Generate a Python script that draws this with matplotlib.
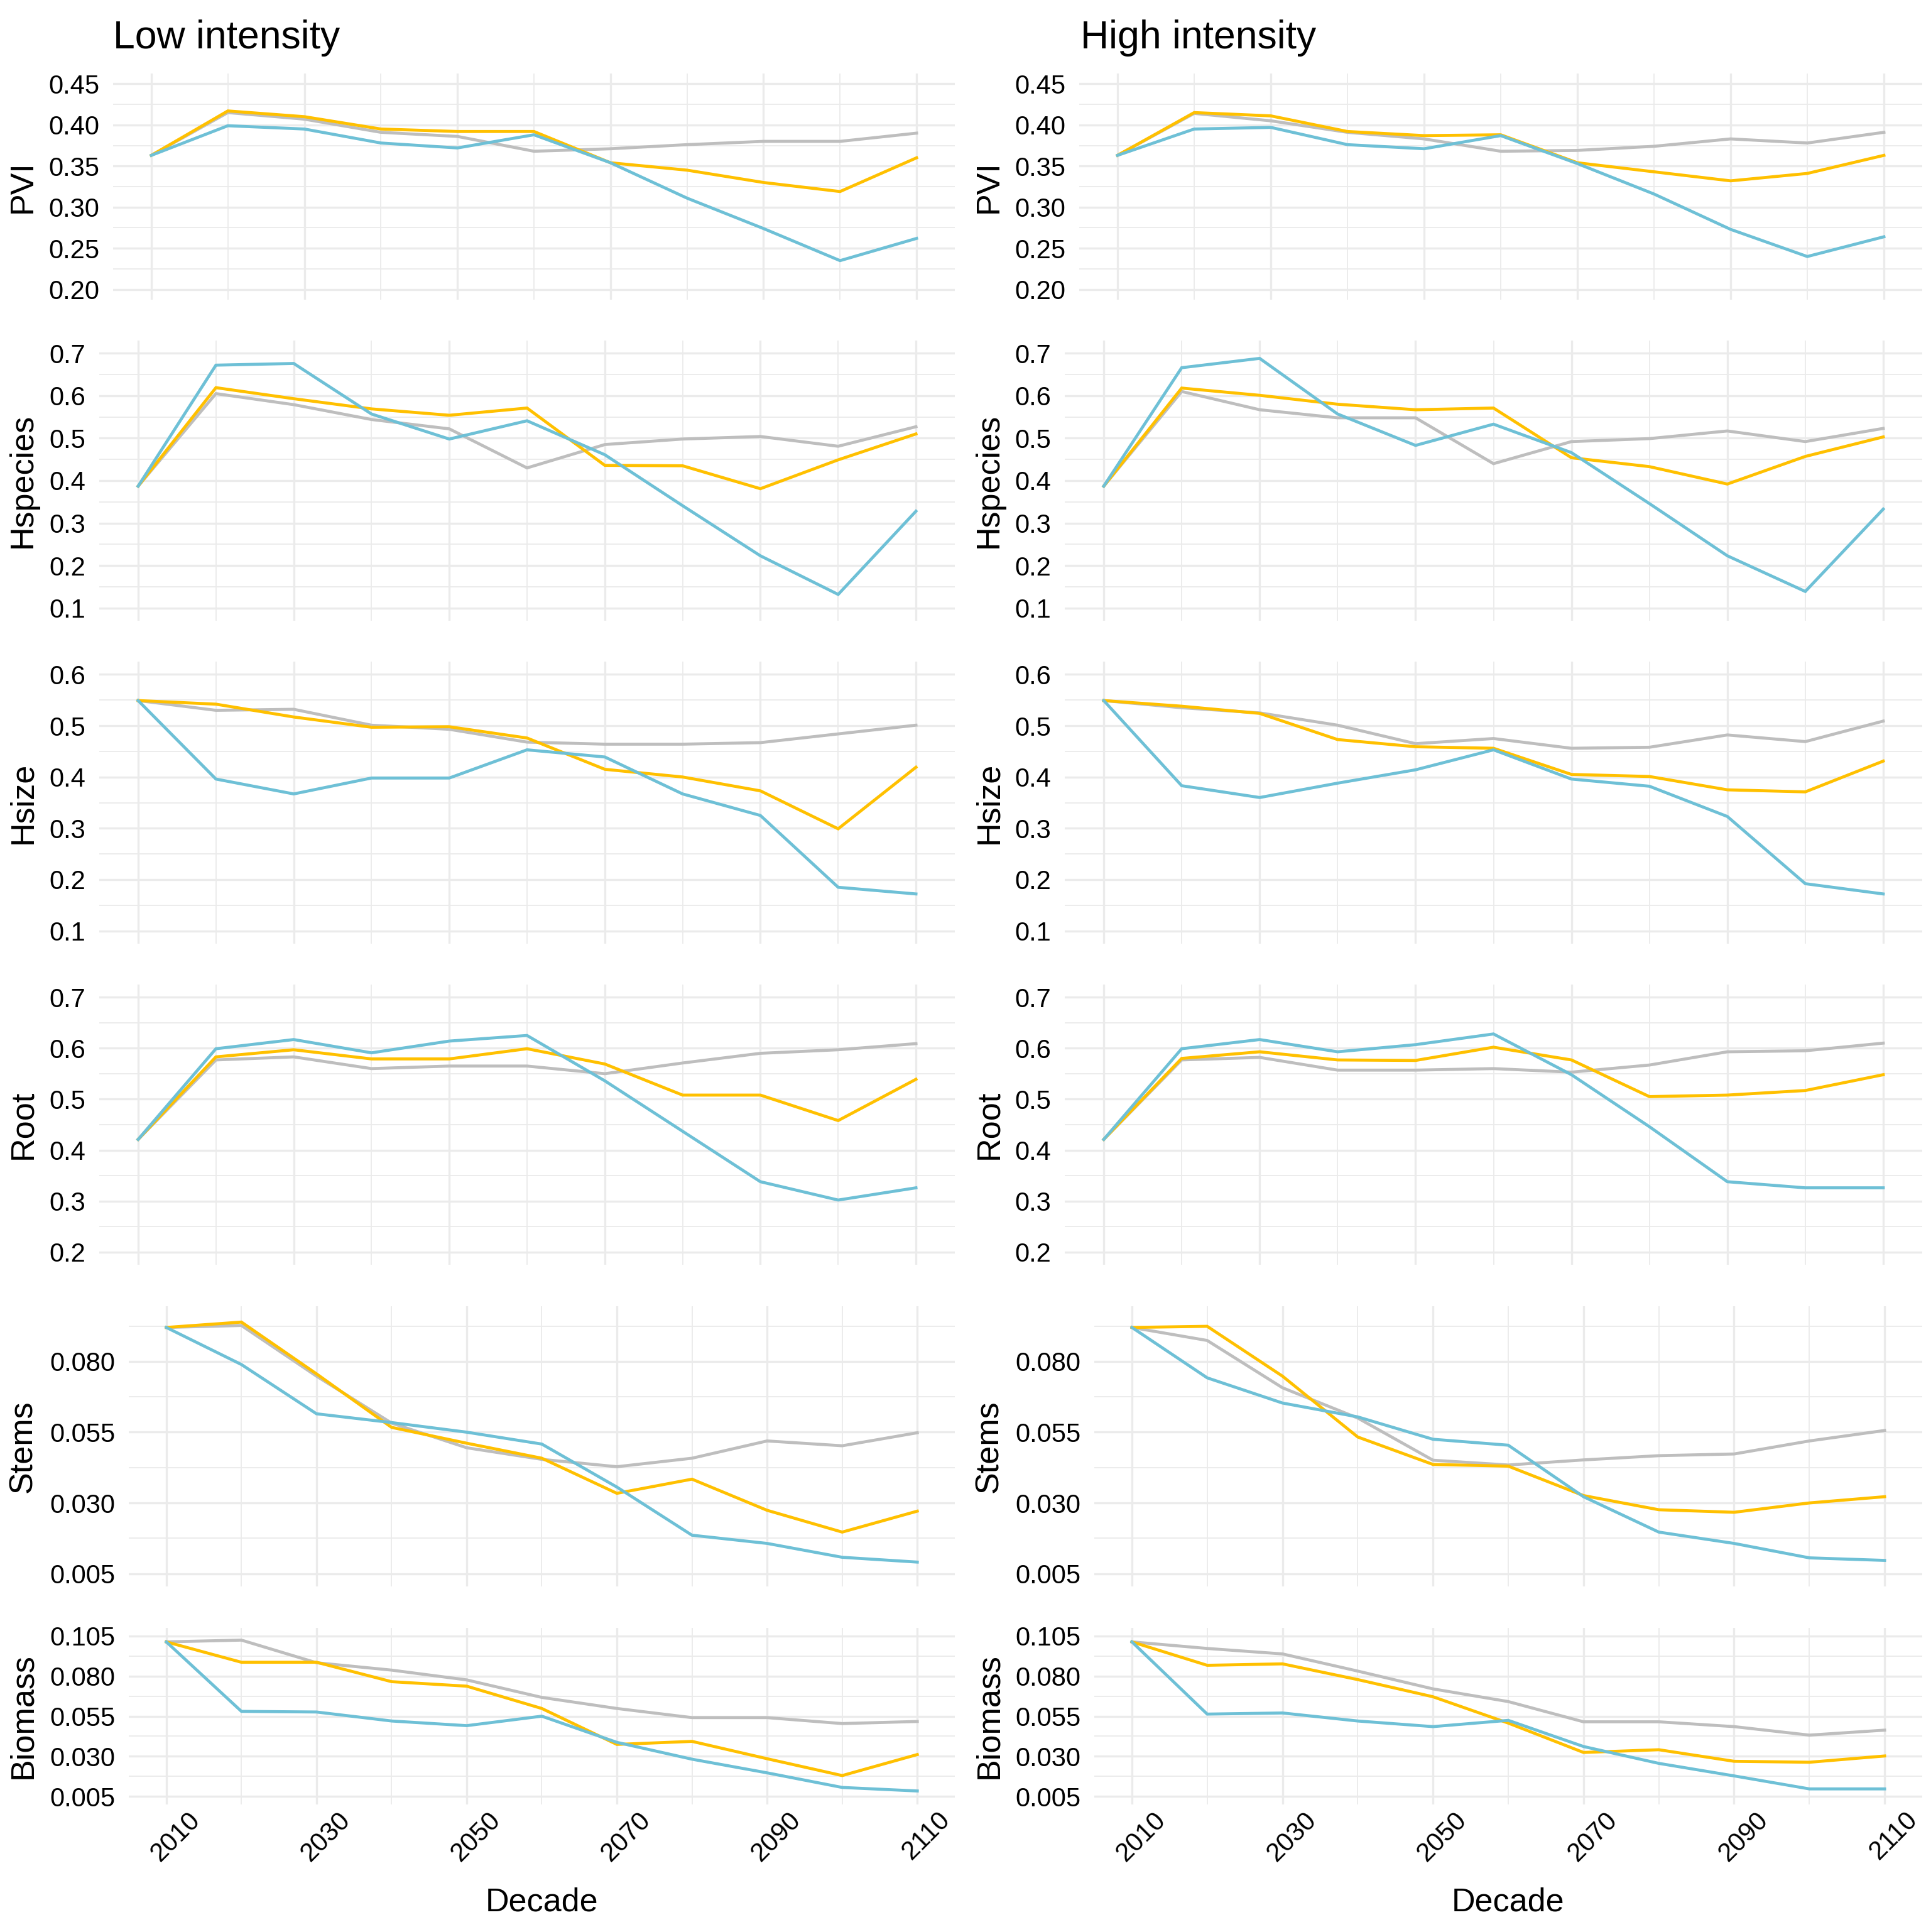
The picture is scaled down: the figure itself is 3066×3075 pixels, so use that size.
import numpy as np
import matplotlib
matplotlib.use("Agg")
import matplotlib.pyplot as plt
import matplotlib.transforms as mtransforms
from matplotlib.ticker import FixedLocator, FormatStrFormatter

plt.rcParams['font.family'] = ['Liberation Sans', 'DejaVu Sans']

decades = [2010, 2020, 2030, 2040, 2050, 2060, 2070, 2080, 2090, 2100, 2110]

# ---- PVI
pvi_lo_grey = [0.363, 0.415, 0.407, 0.391, 0.386, 0.368, 0.371, 0.376, 0.380, 0.380, 0.390]
pvi_lo_gold = [0.363, 0.417, 0.410, 0.395, 0.392, 0.392, 0.354, 0.345, 0.330, 0.319, 0.360]
pvi_lo_blue = [0.363, 0.399, 0.395, 0.378, 0.372, 0.388, 0.354, 0.311, 0.274, 0.235, 0.262]
pvi_hi_grey = [0.363, 0.414, 0.405, 0.391, 0.383, 0.368, 0.369, 0.374, 0.383, 0.378, 0.391]
pvi_hi_gold = [0.363, 0.415, 0.411, 0.392, 0.387, 0.388, 0.354, 0.343, 0.332, 0.341, 0.363]
pvi_hi_blue = [0.363, 0.395, 0.397, 0.376, 0.371, 0.387, 0.353, 0.316, 0.273, 0.240, 0.264]

# ---- Hspecies
hsp_lo_grey = [0.387, 0.605, 0.579, 0.544, 0.522, 0.430, 0.485, 0.498, 0.504, 0.481, 0.527]
hsp_lo_gold = [0.387, 0.619, 0.593, 0.569, 0.554, 0.571, 0.436, 0.435, 0.381, 0.449, 0.510]
hsp_lo_blue = [0.387, 0.672, 0.676, 0.557, 0.498, 0.541, 0.461, 0.341, 0.223, 0.132, 0.328]
hsp_hi_grey = [0.387, 0.610, 0.567, 0.548, 0.548, 0.440, 0.492, 0.499, 0.517, 0.492, 0.523]
hsp_hi_gold = [0.387, 0.618, 0.601, 0.580, 0.567, 0.571, 0.454, 0.433, 0.392, 0.457, 0.503]
hsp_hi_blue = [0.387, 0.666, 0.688, 0.557, 0.483, 0.533, 0.466, 0.346, 0.223, 0.139, 0.333]

# ---- Hsize
hsz_lo_grey = [0.549, 0.530, 0.532, 0.501, 0.493, 0.468, 0.464, 0.464, 0.467, 0.484, 0.501]
hsz_lo_gold = [0.549, 0.542, 0.517, 0.497, 0.498, 0.476, 0.415, 0.400, 0.373, 0.299, 0.419]
hsz_lo_blue = [0.549, 0.396, 0.367, 0.398, 0.398, 0.453, 0.439, 0.367, 0.325, 0.185, 0.172]
hsz_hi_grey = [0.549, 0.535, 0.525, 0.501, 0.465, 0.475, 0.456, 0.458, 0.482, 0.469, 0.509]
hsz_hi_gold = [0.549, 0.538, 0.524, 0.473, 0.459, 0.456, 0.405, 0.401, 0.375, 0.371, 0.431]
hsz_hi_blue = [0.549, 0.383, 0.360, 0.388, 0.414, 0.453, 0.396, 0.382, 0.323, 0.192, 0.172]

# ---- Root
root_lo_grey = [0.421, 0.577, 0.583, 0.560, 0.565, 0.565, 0.550, 0.571, 0.590, 0.597, 0.609]
root_lo_gold = [0.421, 0.583, 0.597, 0.579, 0.579, 0.599, 0.569, 0.508, 0.508, 0.458, 0.539]
root_lo_blue = [0.421, 0.599, 0.617, 0.591, 0.614, 0.625, 0.536, 0.437, 0.338, 0.302, 0.326]
root_hi_grey = [0.421, 0.577, 0.582, 0.557, 0.557, 0.560, 0.553, 0.567, 0.593, 0.595, 0.610]
root_hi_gold = [0.421, 0.580, 0.593, 0.577, 0.576, 0.602, 0.577, 0.505, 0.508, 0.517, 0.548]
root_hi_blue = [0.421, 0.599, 0.617, 0.593, 0.607, 0.628, 0.548, 0.446, 0.338, 0.326, 0.326]

# ---- Stems
stem_lo_grey = [0.0920, 0.0927, 0.0748, 0.0582, 0.0495, 0.0454, 0.0428, 0.0458, 0.0519, 0.0502, 0.0548]
stem_lo_gold = [0.0920, 0.0939, 0.0756, 0.0567, 0.0511, 0.0458, 0.0334, 0.0384, 0.0274, 0.0197, 0.0271]
stem_lo_blue = [0.0920, 0.0789, 0.0615, 0.0584, 0.0550, 0.0508, 0.0356, 0.0186, 0.0157, 0.0108, 0.0091]
stem_hi_grey = [0.0920, 0.0874, 0.0707, 0.0600, 0.0451, 0.0434, 0.0452, 0.0467, 0.0473, 0.0519, 0.0556]
stem_hi_gold = [0.0920, 0.0924, 0.0748, 0.0533, 0.0436, 0.0430, 0.0326, 0.0276, 0.0267, 0.0300, 0.0322]
stem_hi_blue = [0.0920, 0.0742, 0.0653, 0.0604, 0.0525, 0.0504, 0.0322, 0.0197, 0.0157, 0.0106, 0.0097]

# ---- Biomass
bio_lo_grey = [0.1013, 0.1024, 0.0883, 0.0837, 0.0776, 0.0667, 0.0598, 0.0541, 0.0541, 0.0504, 0.0517]
bio_lo_gold = [0.1013, 0.0886, 0.0886, 0.0765, 0.0737, 0.0598, 0.0374, 0.0393, 0.0285, 0.0180, 0.0311]
bio_lo_blue = [0.1013, 0.0580, 0.0576, 0.0520, 0.0491, 0.0550, 0.0387, 0.0282, 0.0197, 0.0106, 0.0084]
bio_hi_grey = [0.1013, 0.0972, 0.0938, 0.0831, 0.0720, 0.0641, 0.0515, 0.0515, 0.0485, 0.0432, 0.0463]
bio_hi_gold = [0.1013, 0.0867, 0.0876, 0.0778, 0.0671, 0.0507, 0.0324, 0.0341, 0.0269, 0.0263, 0.0302]
bio_hi_blue = [0.1013, 0.0563, 0.0570, 0.0520, 0.0485, 0.0524, 0.0361, 0.0256, 0.0178, 0.0097, 0.0097]

metrics = ['PVI', 'Hspecies', 'Hsize', 'Root', 'Stems', 'Biomass']
y_limits = [(0.2, 0.45), (0.1, 0.7), (0.1, 0.6), (0.2, 0.7), (0.005, 0.095), (0.005, 0.105)]
y_steps = [0.05, 0.1, 0.1, 0.1, 0.025, 0.025]
y_fmts = ['%.2f', '%.1f', '%.1f', '%.1f', '%.3f', '%.3f']
titles = ['Low intensity', 'High intensity']

low_series = [
    (pvi_lo_grey, pvi_lo_gold, pvi_lo_blue),
    (hsp_lo_grey, hsp_lo_gold, hsp_lo_blue),
    (hsz_lo_grey, hsz_lo_gold, hsz_lo_blue),
    (root_lo_grey, root_lo_gold, root_lo_blue),
    (stem_lo_grey, stem_lo_gold, stem_lo_blue),
    (bio_lo_grey, bio_lo_gold, bio_lo_blue),
]
high_series = [
    (pvi_hi_grey, pvi_hi_gold, pvi_hi_blue),
    (hsp_hi_grey, hsp_hi_gold, hsp_hi_blue),
    (hsz_hi_grey, hsz_hi_gold, hsz_hi_blue),
    (root_hi_grey, root_hi_gold, root_hi_blue),
    (stem_hi_grey, stem_hi_gold, stem_hi_blue),
    (bio_hi_grey, bio_hi_gold, bio_hi_blue),
]

line_colors = ['#BEBEBE', '#FFC000', '#6EC0D6']
grid_color = '#EBEBEB'

# layout in pixels (image is 3066 x 3075)
W, H = 3066, 3075
row_spans = [(117, 477), (542, 988), (1053, 1502), (1567, 2013), (2079, 2525), (2591, 2872)]
col_left = [[180, 158, 158, 158, 205, 205], [1718, 1695, 1695, 1695, 1742, 1742]]
col_right = [1520, 3060]
ylabel_x = [50, 1588]
title_x = [180, 1720]

fig = plt.figure(figsize=(W / 300, H / 300), dpi=300)


def draw_panel(ax, series, lim, step, fmt, bottom):
    lo, hi = lim
    pad = (hi - lo) * 0.05
    ax.set_xlim(2005, 2115)
    ax.set_ylim(lo - pad, hi + pad)
    major = np.arange(lo, hi + step * 0.01, step)
    minor = major + step / 2
    minor = minor[minor < hi + pad]
    ax.yaxis.set_major_locator(FixedLocator(major))
    ax.yaxis.set_minor_locator(FixedLocator(minor))
    ax.yaxis.set_major_formatter(FormatStrFormatter(fmt))
    ax.xaxis.set_major_locator(FixedLocator(decades[::2]))
    ax.xaxis.set_minor_locator(FixedLocator(decades[1::2]))
    ax.grid(which='minor', color=grid_color, lw=0.45)
    ax.grid(which='major', color=grid_color, lw=0.8)
    ax.set_axisbelow(True)
    for s in ax.spines.values():
        s.set_visible(False)
    ax.tick_params(which='both', length=0)
    ax.tick_params(axis='y', labelsize=10, pad=5.2, colors='black')
    for vals, c in zip(series, line_colors):
        ax.plot(decades, vals, color=c, lw=1.15, solid_joinstyle='miter')
    if bottom:
        ax.tick_params(axis='x', labelsize=10, pad=1, colors='black')
        offset = mtransforms.ScaledTranslation(15 / 300, 0, fig.dpi_scale_trans)
        for lab in ax.get_xticklabels():
            lab.set_rotation(45)
            lab.set_ha('center')
            lab.set_va('top')
            lab.set_transform(lab.get_transform() + offset)
    else:
        ax.tick_params(axis='x', labelbottom=False)


for ci, col_series in enumerate([low_series, high_series]):
    for ri in range(6):
        top, bot = row_spans[ri]
        left = col_left[ci][ri]
        right = col_right[ci]
        ax = fig.add_axes([left / W, 1 - bot / H, (right - left) / W, (bot - top) / H])
        draw_panel(ax, col_series[ri], y_limits[ri], y_steps[ri], y_fmts[ri], ri == 5)
        fig.text(ylabel_x[ci] / W, 1 - (top + bot) / 2 / H, metrics[ri], fontsize=12.5,
                 rotation=90, rotation_mode='anchor', ha='center', va='baseline')
        if ri == 5:
            fig.text((left + right) / 2 / W, 1 - 3042 / H, 'Decade', fontsize=12.5,
                     ha='center', va='baseline')
    fig.text(title_x[ci] / W, 1 - 77 / H, titles[ci], fontsize=15, ha='left', va='baseline')

fig.savefig('out.png', dpi=300, facecolor='white')
